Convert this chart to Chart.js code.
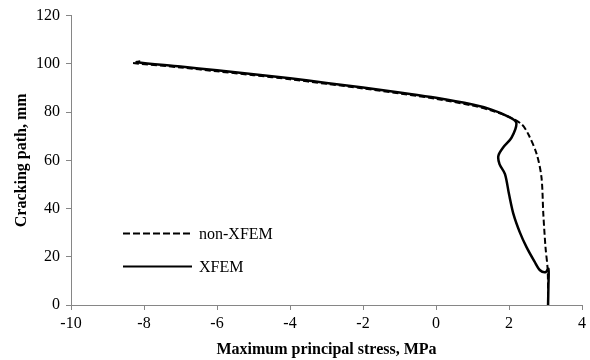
<!DOCTYPE html>
<html>
<head>
<meta charset="utf-8">
<script src="https://cdn.jsdelivr.net/npm/chart.js@4/dist/chart.umd.min.js"></script>
<style>
  html, body { margin: 0; padding: 0; background: #fff; }
  #wrap { width: 590px; height: 360px; }
</style>
</head>
<body>
<div id="wrap"><canvas id="c" width="590" height="360"></canvas></div>
<script>
// values (x = stress MPa, y = crack path mm)
const xfemX = [-8.1, -8.2, -7, -6, -5, -4, -3, -2, -1, 0, 1, 1.5, 1.95, 2.2, 2.07, 1.84, 1.71, 1.74, 1.89, 2.0, 2.12, 2.3, 2.48, 2.7, 2.85, 3.0, 3.08, 3.08, 3.07];
const xfemY = [101.0, 100.7, 98.9, 97.3, 95.7, 94.0, 92.1, 90.2, 88.1, 85.9, 83.1, 81.1, 78.3, 75.6, 69.4, 65.3, 61.9, 58.4, 54.3, 46.0, 37.8, 30.0, 24.0, 18.0, 14.4, 13.6, 15.0, 8.0, 0];
const nonX = [-8.3, -7, -6, -5, -4, -3, -2, -1, 0, 1, 1.5, 2.0, 2.35, 2.53, 2.76, 2.89, 2.94, 3.0, 3.06, 3.07];
const nonY = [100.3, 98.5, 96.9, 95.3, 93.6, 91.7, 89.8, 87.7, 85.5, 82.7, 80.7, 78.0, 74.9, 70.8, 62.5, 52.9, 37.8, 24.0, 14.4, 0];
const xTicks = [-10, -8, -6, -4, -2, 0, 2, 4];
const yTicks = [0, 20, 40, 60, 80, 100, 120];
const seriesNames = ['non-XFEM', 'XFEM'];

const toPts = (xs, ys) => xs.map((x, i) => ({x: x, y: ys[i]}));
const axisGrey = '#868686';
const serif = "'Liberation Serif', 'Times New Roman', serif";

// легенда внутри области графика
const innerLegend = {
    id: 'innerLegend',
    afterDraw(chart) {
        const ctx = chart.ctx;
        const a = chart.chartArea;
        const rows = [
            {name: seriesNames[0], dash: [7, 3], y: a.top + 218},
            {name: seriesNames[1], dash: [], y: a.top + 251}
        ];
        ctx.save();
        ctx.strokeStyle = '#000';
        ctx.lineWidth = 2;
        ctx.fillStyle = '#000';
        ctx.font = '16px ' + serif;
        ctx.textBaseline = 'middle';
        rows.forEach(r => {
            ctx.setLineDash(r.dash);
            ctx.beginPath();
            ctx.moveTo(a.left + 52, r.y);
            ctx.lineTo(a.left + 121, r.y);
            ctx.stroke();
            ctx.fillText(r.name, a.left + 128, r.y + 1);
        });
        ctx.restore();
    }
};

new Chart(document.getElementById('c'), {
    type: 'scatter',
    data: {
        datasets: [
            {
                label: seriesNames[0],
                data: toPts(nonX, nonY),
                showLine: true,
                borderColor: '#000',
                borderWidth: 2,
                borderDash: [6, 3],
                pointRadius: 0,
                tension: 0.3
            },
            {
                label: seriesNames[1],
                data: toPts(xfemX, xfemY),
                showLine: true,
                borderColor: '#000',
                borderWidth: 2.5,
                pointRadius: 0,
                tension: 0.3
            }
        ]
    },
    options: {
        responsive: false,
        animation: false,
        layout: {padding: {top: 14, right: 8, left: 0, bottom: 0}},
        plugins: {legend: {display: false}, tooltip: {enabled: false}},
        scales: {
            x: {
                type: 'linear',
                min: -10, max: 4,
                afterBuildTicks: s => { s.ticks = xTicks.map(v => ({value: v})); },
                afterFit: s => { s.height = 55; },
                ticks: {color: '#000', font: {family: serif, size: 16}, padding: 4},
                grid: {drawOnChartArea: false, drawTicks: true, tickLength: 5, color: axisGrey},
                border: {color: axisGrey, width: 1},
                title: {display: true, text: 'Maximum principal stress, MPa', color: '#000',
                        font: {family: serif, size: 16, weight: 'bold'}, padding: {top: 4, bottom: 1}}
            },
            y: {
                type: 'linear',
                min: 0, max: 120,
                afterBuildTicks: s => { s.ticks = yTicks.map(v => ({value: v})); },
                afterFit: s => { s.width = 71; },
                ticks: {color: '#000', font: {family: serif, size: 16}, padding: 6},
                grid: {drawOnChartArea: false, drawTicks: true, tickLength: 5, color: axisGrey},
                border: {color: axisGrey, width: 1},
                title: {display: true, text: 'Cracking path, mm', color: '#000',
                        font: {family: serif, size: 16, weight: 'bold'}, padding: {top: 12, bottom: 4}}
            }
        }
    },
    plugins: [innerLegend]
});
</script>
</body>
</html>
